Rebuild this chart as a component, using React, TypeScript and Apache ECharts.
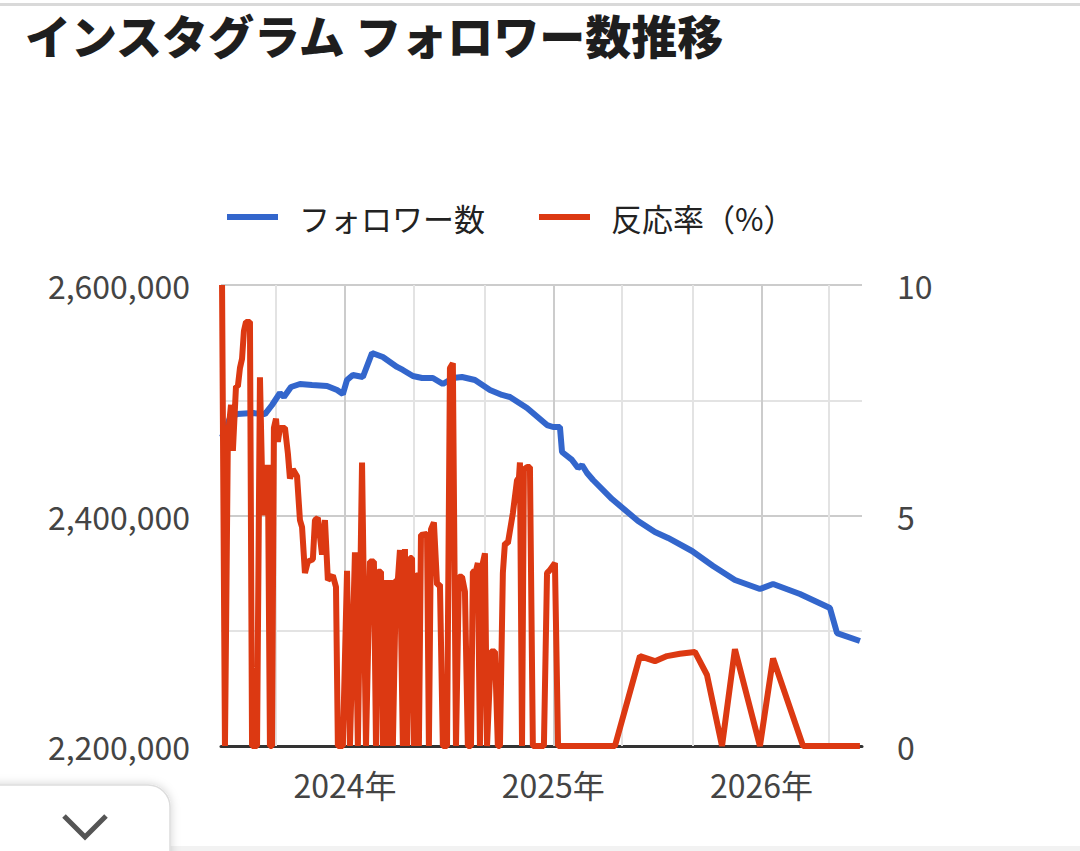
import React, { useEffect, useRef } from 'react';
import * as echarts from 'echarts';

const FONT = '"Noto Sans CJK JP", "Noto Sans", sans-serif';
const TITLE = 'インスタグラム フォロワー数推移';
const SERIES_NAMES = ['フォロワー数', '反応率（%）'];
const YEAR_LABELS = [2024, 2025, 2026];
const X_MIN = 2023.405;
const X_MAX = 2026.482;
const GRID_MAJOR_X = [2024, 2025, 2026];
const GRID_MINOR_X = [2023.667, 2024.333, 2024.667, 2025.333, 2025.667, 2026.318];

// time expressed as decimal years
const FOLLOWER_T = [
  2023.41, 2023.448, 2023.482, 2023.558, 2023.616, 2023.65, 2023.688, 2023.707, 2023.741, 2023.784,
  2023.842, 2023.914, 2023.962, 2023.99, 2024.01, 2024.038, 2024.086, 2024.13, 2024.182, 2024.25,
  2024.278, 2024.326, 2024.37, 2024.422, 2024.47, 2024.518, 2024.562, 2024.624, 2024.696, 2024.754,
  2024.792, 2024.874, 2024.97, 2024.999, 2025.032, 2025.042, 2025.09, 2025.119, 2025.138, 2025.162,
  2025.191, 2025.282, 2025.407, 2025.488, 2025.551, 2025.666, 2025.767, 2025.872, 2025.992, 2026.055,
  2026.184, 2026.256, 2026.328, 2026.362, 2026.472,
];
const FOLLOWER_VALUES = [
  2468000, 2484600, 2488000, 2488900, 2488000, 2495900, 2506300, 2502800, 2511500, 2514100,
  2513200, 2512400, 2508900, 2505400, 2517600, 2521900, 2520200, 2541000, 2537500, 2528900,
  2526300, 2521000, 2519300, 2519300, 2514100, 2519300, 2520200, 2517600, 2508900, 2504600,
  2502800, 2493300, 2478500, 2476800, 2476800, 2455100, 2448200, 2441200, 2443800, 2436900,
  2430800, 2414300, 2395200, 2385700, 2380500, 2369200, 2356200, 2344000, 2336200, 2340600,
  2331900, 2325800, 2319700, 2298000, 2291100,
];

const RATE_T = [
  2023.41, 2023.424, 2023.438, 2023.453, 2023.462, 2023.477, 2023.486, 2023.496, 2023.506, 2023.515,
  2023.525, 2023.544, 2023.554, 2023.578, 2023.592, 2023.606, 2023.616, 2023.626, 2023.63, 2023.64,
  2023.65, 2023.659, 2023.669, 2023.678, 2023.688, 2023.712, 2023.726, 2023.736, 2023.75, 2023.77,
  2023.784, 2023.794, 2023.808, 2023.822, 2023.846, 2023.856, 2023.87, 2023.89, 2023.904, 2023.918,
  2023.942, 2023.957, 2023.966, 2023.99, 2024.01, 2024.024, 2024.048, 2024.062, 2024.082, 2024.101,
  2024.12, 2024.139, 2024.149, 2024.158, 2024.173, 2024.182, 2024.197, 2024.206, 2024.216, 2024.23,
  2024.245, 2024.254, 2024.264, 2024.278, 2024.288, 2024.298, 2024.312, 2024.322, 2024.331, 2024.341,
  2024.35, 2024.355, 2024.365, 2024.394, 2024.403, 2024.413, 2024.427, 2024.442, 2024.456, 2024.47,
  2024.49, 2024.504, 2024.518, 2024.533, 2024.547, 2024.562, 2024.576, 2024.59, 2024.605, 2024.614,
  2024.629, 2024.638, 2024.648, 2024.662, 2024.672, 2024.682, 2024.701, 2024.72, 2024.734, 2024.744,
  2024.758, 2024.768, 2024.782, 2024.806, 2024.826, 2024.835, 2024.84, 2024.85, 2024.859, 2024.874,
  2024.888, 2024.902, 2024.955, 2024.97, 2024.984, 2025.008, 2025.023, 2025.296, 2025.416, 2025.488,
  2025.546, 2025.608, 2025.68, 2025.738, 2025.81, 2025.872, 2025.992, 2026.055, 2026.199, 2026.472,
];
const RATE_VALUES = [
  10.0, 0, 6.7, 7.4, 6.4, 7.8, 7.8, 8.2, 8.4, 9.0,
  9.2, 9.2, 0, 0, 8.0, 5.0, 6.1, 5.0, 6.1, 0,
  0, 6.9, 7.1, 6.6, 6.9, 6.9, 6.35, 5.8, 6.0, 5.85,
  4.9, 4.75, 3.75, 4.0, 4.05, 4.9, 4.95, 4.15, 4.9, 3.6,
  3.7, 3.45, 0, 0, 3.8, 0, 4.2, 0, 6.15, 0,
  4.0, 4.0, 0, 3.78, 3.78, 0, 3.6, 0, 3.6, 0,
  3.6, 3.6, 4.25, 0, 4.27, 0, 4.08, 4.08, 0, 3.7,
  3.7, 0, 4.58, 4.6, 0, 4.7, 4.85, 3.5, 3.5, 0,
  0, 8.2, 8.3, 0, 3.67, 3.67, 3.35, 0, 0, 3.78,
  3.8, 3.97, 0, 3.97, 4.18, 0, 2.05, 2.05, 0, 0,
  3.75, 4.4, 4.4, 5.05, 5.77, 5.8, 6.15, 0, 6.0, 6.05,
  6.05, 0, 0, 3.75, 3.82, 3.97, 0, 0, 1.95, 1.84,
  1.95, 2.0, 2.04, 1.54, 0, 2.1, 0, 1.9, 0, 0,
];

const BLUE = '#3366cc';
const RED = '#dc3912';

export default function App() {
  const ref = useRef<HTMLDivElement>(null);
  useEffect(() => {
    if (!ref.current) return;
    const chart = echarts.init(ref.current, null, { renderer: 'svg' });
    const followerData = FOLLOWER_T.map((t, i) => [t, FOLLOWER_VALUES[i]]);
    const rateData = RATE_T.map((t, i) => [t, RATE_VALUES[i]]);
    const gridLines = [
      ...GRID_MINOR_X.map((v) => ({ xAxis: v, lineStyle: { color: '#e3e3e3', width: 2, type: 'solid' } })),
      ...GRID_MAJOR_X.map((v) => ({ xAxis: v, lineStyle: { color: '#cccccc', width: 2, type: 'solid' } })),
    ];
    chart.setOption({
      animation: false,
      backgroundColor: '#ffffff',
      textStyle: { fontFamily: FONT },
      title: {
        text: TITLE,
        left: 20,
        top: 6,
        textStyle: { fontFamily: FONT, fontSize: 46, fontWeight: 900, color: '#1e1e1e' },
      },
      legend: {
        left: 222,
        top: 192,
        icon: 'rect',
        itemWidth: 51,
        itemHeight: 6,
        itemGap: 54,
        selectedMode: false,
        data: SERIES_NAMES,
        formatter: (name: string) => `{s|}${name}`,
        textStyle: {
          fontFamily: FONT,
          fontSize: 31,
          color: '#222222',
          lineHeight: 40,
          rich: { s: { width: 16 } },
        },
      },
      grid: { left: 221, right: 218, top: 285, bottom: 105, containLabel: false, outerBoundsMode: 'none' },
      xAxis: {
        type: 'value',
        min: X_MIN,
        max: X_MAX,
        axisLine: { show: true, onZero: false, lineStyle: { color: '#333333', width: 3 } },
        axisTick: { show: false },
        splitLine: { show: false },
        axisLabel: {
          customValues: YEAR_LABELS,
          formatter: (v: number) => `${Math.round(v)}年`,
          fontFamily: FONT,
          fontSize: 32,
          color: '#444444',
          margin: 22,
        },
      },
      yAxis: [
        {
          type: 'value',
          min: 2200000,
          max: 2600000,
          interval: 100000,
          axisLine: { show: false },
          axisTick: { show: false },
          splitLine: { show: true, lineStyle: { color: ['#cccccc', '#e3e3e3'], width: 2 } },
          axisLabel: {
            formatter: (v: number) => (v % 200000 === 0 ? v.toLocaleString('en-US') : ''),
            fontFamily: FONT,
            fontSize: 32,
            color: '#444444',
            margin: 31,
          },
        },
        {
          type: 'value',
          min: 0,
          max: 10,
          interval: 2.5,
          axisLine: { show: false },
          axisTick: { show: false },
          splitLine: { show: false },
          axisLabel: {
            formatter: (v: number) => (v % 5 === 0 ? String(v) : ''),
            fontFamily: FONT,
            fontSize: 32,
            color: '#444444',
            margin: 35,
          },
        },
      ],
      series: [
        {
          name: SERIES_NAMES[0],
          type: 'line',
          yAxisIndex: 0,
          data: followerData,
          showSymbol: false,
          symbol: 'none',
          clip: false,
          lineStyle: { color: BLUE, width: 6 },
          itemStyle: { color: BLUE },
          markLine: {
            z: 1,
            silent: true,
            symbol: ['none', 'none'],
            label: { show: false },
            data: gridLines,
          },
        },
        {
          name: SERIES_NAMES[1],
          type: 'line',
          yAxisIndex: 1,
          data: rateData,
          showSymbol: false,
          symbol: 'none',
          clip: false,
          lineStyle: { color: RED, width: 6 },
          itemStyle: { color: RED },
        },
      ],
      graphic: [
        { type: 'rect', silent: true, shape: { x: 0, y: 3, width: 1080, height: 3 }, style: { fill: '#d9d9d9' } },
        { type: 'rect', silent: true, shape: { x: 0, y: 846, width: 1080, height: 5 }, style: { fill: '#f2f2f2' } },
        {
          type: 'rect',
          silent: true,
          shape: { x: -30, y: 785, width: 200, height: 120, r: 22 },
          style: { fill: '#ffffff', stroke: '#dddddd', lineWidth: 1.5, shadowBlur: 10, shadowColor: 'rgba(0,0,0,0.18)' },
        },
        {
          type: 'polyline',
          silent: true,
          shape: { points: [[64, 816], [85, 837], [106, 816]] },
          style: { stroke: '#555555', lineWidth: 5, fill: 'none' },
        },
      ],
    });
    return () => chart.dispose();
  }, []);
  return <div ref={ref} style={{ position: 'fixed', left: 0, top: 0, width: 1080, height: 851 }} />;
}
